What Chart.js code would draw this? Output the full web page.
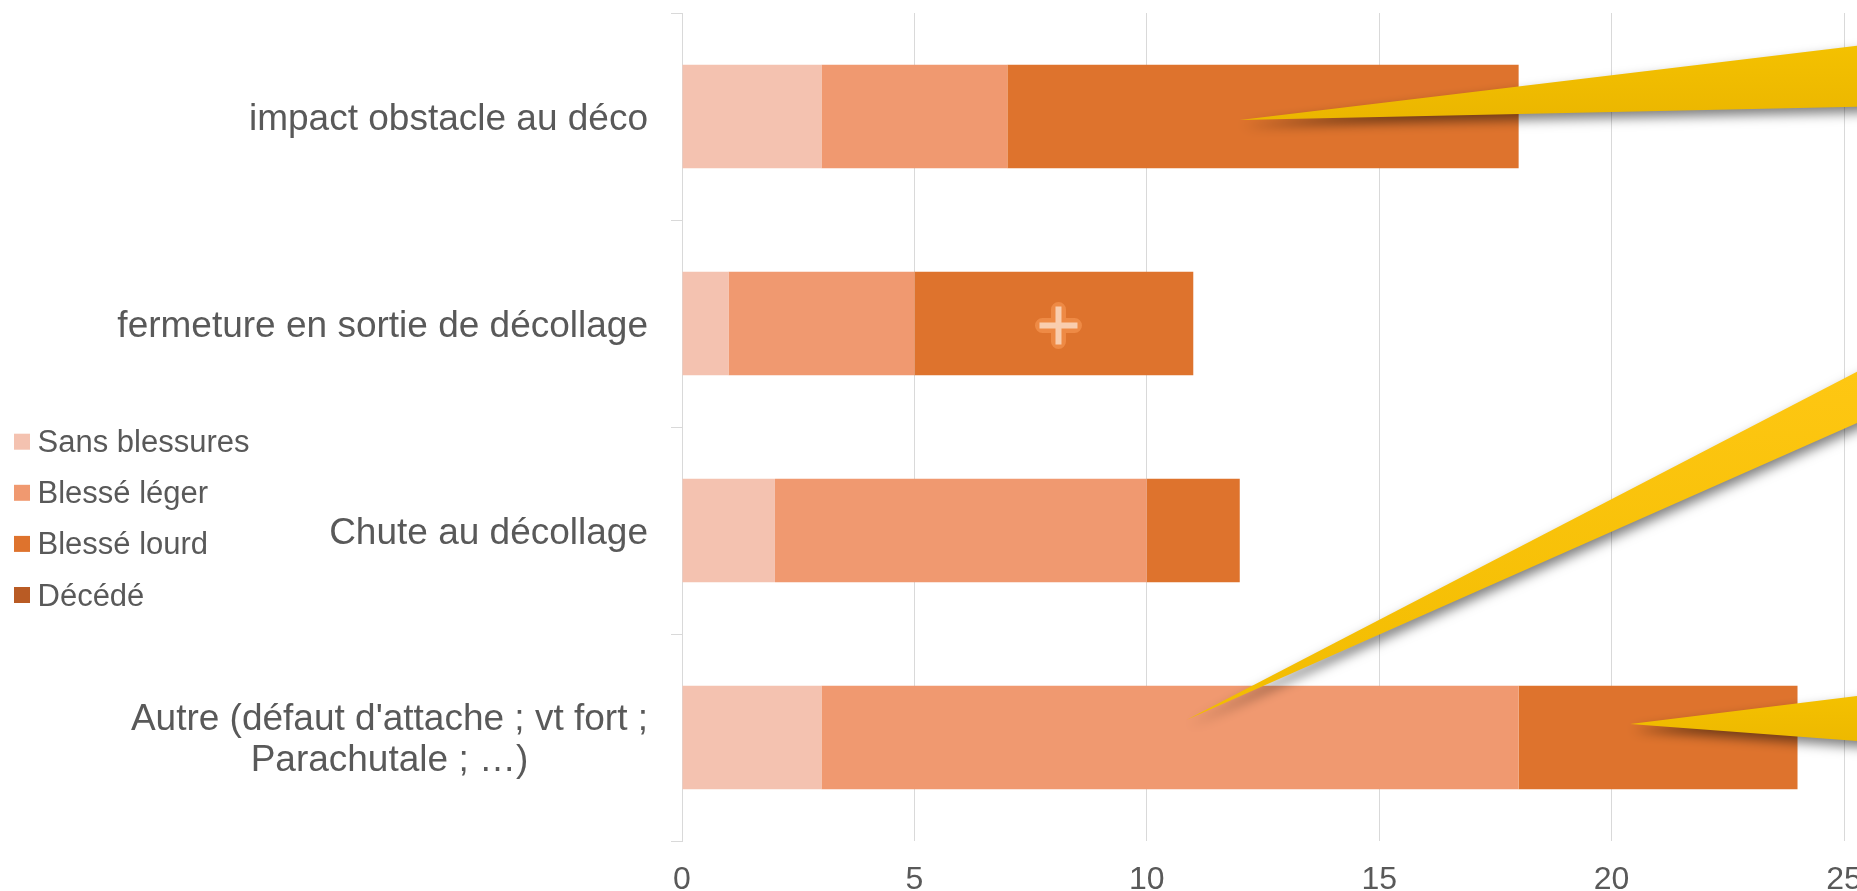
<!DOCTYPE html>
<html><head><meta charset="utf-8">
<script src="https://cdn.jsdelivr.net/npm/chart.js@4"></script>
<style>html,body{margin:0;padding:0;background:#fff;overflow:hidden}#wrap{width:1857px;height:891px;position:relative}</style>
</head><body><div id="wrap"><canvas id="c"></canvas></div>
<script>
// ---- data ----
const categories = ["impact obstacle au déco", "fermeture en sortie de décollage", "Chute au décollage", ["Autre (défaut d'attache ; vt fort ;", "Parachutale ; …)"]];
const seriesNames = ["Sans blessures", "Blessé léger", "Blessé lourd", "Décédé"];
const sansBlessures = [3, 1, 2, 3];
const blesseLeger = [4, 4, 8, 15];
const blesseLourd = [11, 6, 2, 6];
const decede = [0, 0, 0, 0];
const xTicks = [0, 5, 10, 15, 20, 25];

// ---- styles ----
const colors = ["#F4C2B0", "#F09970", "#DE732D", "#B95B24"];
const FONT = "'Liberation Sans', Arial, sans-serif";
const TEXT = "#595959";
const GRID = "#d9d9d9";

// callout annotations anchored on the scales (tip value, category index, pixel offsets)
const callouts = [
  {x: 12.0, cat: 0, dy: 3.5, top: 45.7, bot: 106.7, c1: '#F5C200', c2: '#EBB600'},
  {x: 10.85, cat: 3, dy: -17.5, top: 371.7, bot: 423, c1: '#FFC814', c2: '#F2BC00'},
  {x: 20.4, cat: 3, dy: -13.5, top: 696, bot: 741, c1: '#F5C200', c2: '#EDB800'}
];
const plusMark = {x: 8.1, cat: 1, dy: 2};

const decoPlugin = {
  id: 'deco',
  afterDraw(chart) {
    const ctx = chart.ctx, xs = chart.scales.x, ys = chart.scales.y;
    const W = chart.width;
    // category labels (each block right-aligned, lines centered within block)
    categories.forEach((c, i) => {
      const lines = Array.isArray(c) ? c : [c];
      ctx.save();
      ctx.font = "37px " + FONT;
      ctx.fillStyle = TEXT;
      ctx.textAlign = 'center';
      ctx.textBaseline = 'middle';
      const w = Math.max(...lines.map(l => ctx.measureText(l).width));
      const cx = ys.right - 11 - 23 - w / 2;
      const cy = ys.getPixelForTick(i) + 3;
      const lh = 41;
      lines.forEach((l, k) => ctx.fillText(l, cx, cy + (k - (lines.length - 1) / 2) * lh));
      ctx.restore();
    });
    // plus mark
    {
      const px = xs.getPixelForValue(plusMark.x), py = ys.getPixelForValue(plusMark.cat) + plusMark.dy;
      ctx.save();
      ctx.lineCap = 'round';
      ctx.lineJoin = 'round';
      ctx.strokeStyle = '#EE8A45';
      ctx.lineWidth = 15;
      ctx.beginPath();
      ctx.moveTo(px - 16, py); ctx.lineTo(px + 16, py);
      ctx.moveTo(px, py - 16); ctx.lineTo(px, py + 16);
      ctx.stroke();
      ctx.lineCap = 'butt';
      ctx.strokeStyle = '#F9CDAE';
      ctx.lineWidth = 6;
      ctx.beginPath();
      ctx.moveTo(px - 19, py); ctx.lineTo(px + 19, py);
      ctx.moveTo(px, py - 19); ctx.lineTo(px, py + 19);
      ctx.stroke();
      ctx.restore();
    }
    // callouts
    callouts.forEach(c => {
      const tx = xs.getPixelForValue(c.x), ty = ys.getPixelForValue(c.cat) + c.dy;
      const ext = 60;
      const k = (W + ext - tx) / (W - tx);
      const topY = ty + (c.top - ty) * k, botY = ty + (c.bot - ty) * k;
      ctx.save();
      const g = ctx.createLinearGradient(0, Math.min(topY, ty), 0, Math.max(botY, ty));
      g.addColorStop(0, c.c1);
      g.addColorStop(1, c.c2);
      ctx.fillStyle = g;
      ctx.shadowColor = 'rgba(0,0,0,0.5)';
      ctx.shadowBlur = 12;
      ctx.shadowOffsetX = 2;
      ctx.shadowOffsetY = 6;
      ctx.beginPath();
      ctx.moveTo(tx, ty);
      ctx.lineTo(W + ext, topY);
      ctx.lineTo(W + ext, botY);
      ctx.closePath();
      ctx.fill();
      ctx.restore();
    });
    // legend
    ctx.save();
    ctx.font = "31px " + FONT;
    ctx.textBaseline = 'middle';
    ctx.textAlign = 'left';
    chart.data.datasets.forEach((ds, i) => {
      const cy = 441.7 + i * 51.1;
      ctx.fillStyle = ds.backgroundColor;
      ctx.fillRect(14, cy - 8, 16, 16);
      ctx.fillStyle = TEXT;
      ctx.fillText(ds.label, 37.5, cy + 2);
    });
    ctx.restore();
  }
};

const seriesValues = [sansBlessures, blesseLeger, blesseLourd, decede];

new Chart(document.getElementById('c'), {
  type: 'bar',
  data: {
    labels: categories,
    datasets: seriesNames.map((n, i) => ({
      label: n,
      data: seriesValues[i],
      backgroundColor: colors[i],
      borderWidth: 0,
      categoryPercentage: 0.5,
      barPercentage: 1.0
    }))
  },
  options: {
    indexAxis: 'y',
    responsive: true,
    maintainAspectRatio: false,
    animation: false,
    layout: {padding: {left: 0, right: 13, top: 13, bottom: 0}},
    plugins: {legend: {display: false}, tooltip: {enabled: false}},
    scales: {
      x: {
        stacked: true,
        min: 0, max: 25,
        afterBuildTicks: s => { s.ticks = xTicks.map(v => ({value: v})); },
        afterFit: s => { s.paddingLeft = 0; s.paddingRight = 0; s.height = 50; },
        grid: {color: GRID, lineWidth: 1, drawTicks: false},
        border: {display: false},
        ticks: {font: {size: 32, family: FONT}, color: TEXT, padding: 20, maxRotation: 0}
      },
      y: {
        stacked: true,
        afterFit: s => { s.width = 682; s.paddingTop = 0; s.paddingBottom = 0; },
        grid: {drawOnChartArea: false, drawTicks: true, tickLength: 11, color: GRID, lineWidth: 1, offset: true},
        border: {display: true, color: GRID, width: 1},
        ticks: {font: {size: 37, family: FONT}, color: 'rgba(0,0,0,0)', padding: 23}
      }
    }
  },
  plugins: [decoPlugin]
});
</script>
</body></html>
